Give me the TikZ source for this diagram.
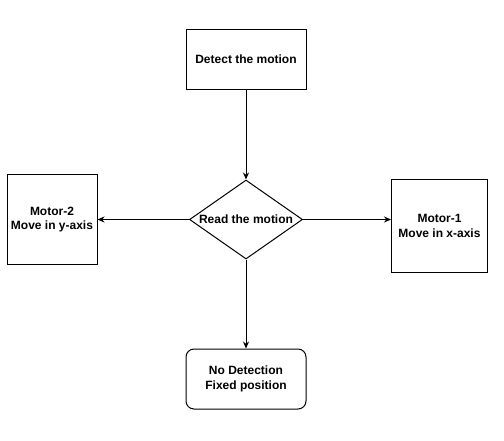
\documentclass[tikz,border=0pt]{standalone}
\usepackage{fontspec}
\setmainfont{Liberation Sans}
\usetikzlibrary{shapes.geometric,arrows.meta}
\begin{document}
\begin{tikzpicture}[x=1pt,y=-1pt,line width=1pt,
  font=\fontsize{12}{14.4}\selectfont\bfseries,
  box/.style={draw,rectangle,align=center,inner sep=0pt},
  decision/.style={draw,diamond,aspect=1.43,inner sep=0pt,minimum width=113pt,minimum height=79pt},
  flow/.style={-{Stealth[length=7pt,width=6pt]}}]
\useasboundingbox (0,0) rectangle (504,440);
\node[box,minimum width=120pt,minimum height=60pt] (detect) at (246,59) {Detect the motion};
\node[decision] (read) at (246,219.5) {Read the motion};
\node[box,minimum width=90pt,minimum height=90pt] (m2) at (52,219.5) {Motor-2\\Move in y-axis};
\node[box,minimum width=96pt,minimum height=93pt] (m1) at (439.5,226) {Motor-1\\Move in x-axis};
\node[box,rounded corners=8pt,minimum width=120pt,minimum height=60pt] (nodet) at (246,379) {No Detection\\Fixed position};
\draw[flow] (detect) -- (read);
\draw[flow] (read) -- (nodet);
\draw[flow] (read) -- (m2);
\draw[flow] (read.east) -- (read.east -| m1.west);
\end{tikzpicture}
\end{document}
